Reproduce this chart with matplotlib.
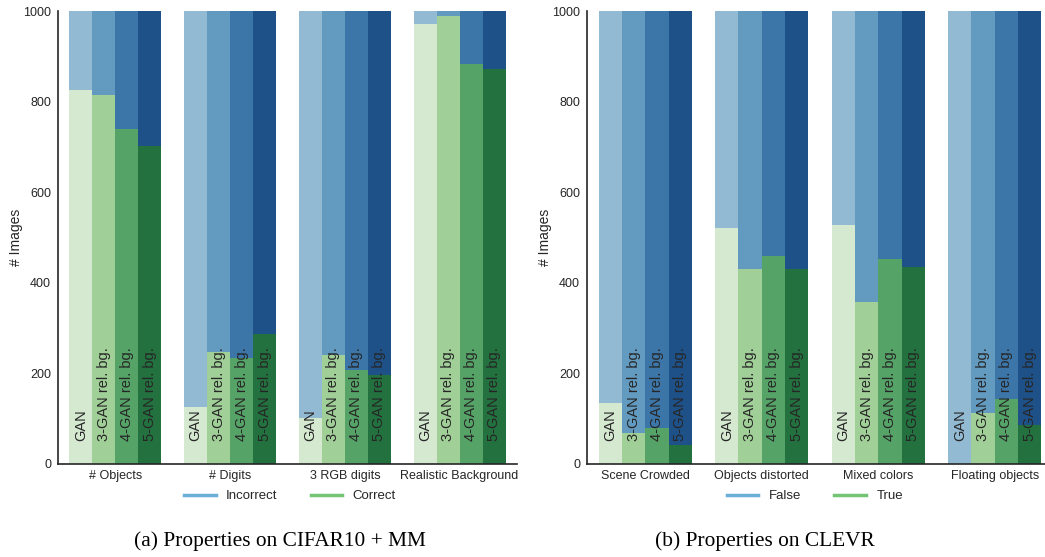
import matplotlib
matplotlib.use("Agg")
import matplotlib.pyplot as plt
import numpy as np
from matplotlib.lines import Line2D

plt.rcParams.update({
    "font.family": ["Liberation Sans", "DejaVu Sans"],
    "text.color": "#262626",
    "axes.labelcolor": "#262626",
    "xtick.color": "#262626",
    "ytick.color": "#262626",
    "axes.edgecolor": "#262626",
})

# ---- data -------------------------------------------------------------
models = ["GAN", "3-GAN rel. bg.", "4-GAN rel. bg.", "5-GAN rel. bg."]
total_images = 1000

cats_a = ["# Objects", "# Digits", "3 RGB digits", "Realistic Background"]
# correct images per property, one list per model
gan_a = [826, 126, 102, 971]
gan3_a = [814, 247, 241, 989]
gan4_a = [740, 235, 208, 883]
gan5_a = [703, 288, 197, 871]

cats_b = ["Scene Crowded", "Objects distorted", "Mixed colors", "Floating objects"]
gan_b = [135, 521, 528, 0]
gan3_b = [68, 431, 358, 113]
gan4_b = [80, 459, 453, 144]
gan5_b = [42, 431, 435, 86]

blues = ["#93bad3", "#629ac0", "#3c76a9", "#1f5189"]
greens = ["#d5e9d1", "#a1cf98", "#56a367", "#22713e"]


def draw_panel(ax, cats, series):
    x = np.arange(len(cats))
    w = 0.2
    for k, (name, vals) in enumerate(zip(models, series)):
        pos = x - 0.3 + k * w
        ax.bar(pos, [total_images] * len(cats), width=w, color=blues[k],
               linewidth=0, zorder=1)
        ax.bar(pos, vals, width=w, color=greens[k], linewidth=0, zorder=2)
        for p in pos:
            ax.text(p, 50, name, rotation=90, ha="center", va="bottom",
                    fontsize=10.5, color="#262626", zorder=3)
    ax.set_xlim(-0.5, len(cats) - 0.5)
    ax.set_ylim(0, 1000)
    ax.set_yticks([0, 200, 400, 600, 800, 1000])
    ax.set_xticks(x)
    ax.set_xticklabels(cats, fontsize=9)
    ax.tick_params(axis="y", labelsize=9, length=0, pad=5)
    ax.tick_params(axis="x", length=0, pad=4)
    ax.set_ylabel("# Images", fontsize=10)
    for s in ("top", "right"):
        ax.spines[s].set_visible(False)
    for s in ("left", "bottom"):
        ax.spines[s].set_linewidth(1.2)
    handles = [Line2D([0], [0], color="#6baed6", lw=2.5),
               Line2D([0], [0], color="#74c476", lw=2.5)]
    return handles


fig = plt.figure(figsize=(10.45, 5.57), dpi=100)
ax_a = fig.add_axes([58 / 1045, 1 - 464 / 557, (517 - 58) / 1045, 453 / 557])
ax_b = fig.add_axes([587 / 1045, 1 - 464 / 557, (1053 - 587) / 1045, 453 / 557])

h = draw_panel(ax_a, cats_a, [gan_a, gan3_a, gan4_a, gan5_a])
ax_a.yaxis.set_label_coords(-0.076, 0.5)
fig.legend(h, ["Incorrect", "Correct"], loc="center", ncol=2, frameon=False,
           fontsize=9.5, bbox_to_anchor=(290 / 1045, 1 - 496 / 557),
           handlelength=2.4, columnspacing=2.5)

h = draw_panel(ax_b, cats_b, [gan_b, gan3_b, gan4_b, gan5_b])
ax_b.yaxis.set_label_coords(-0.076, 0.5)
fig.legend(h, ["False", "True"], loc="center", ncol=2, frameon=False,
           fontsize=9.5, bbox_to_anchor=(815 / 1045, 1 - 496 / 557),
           handlelength=2.4, columnspacing=2.5)

serif = ["Liberation Serif", "DejaVu Serif"]
fig.text(280 / 1045, 1 - 541 / 557, "(a) Properties on CIFAR10 + MM",
         ha="center", va="center", fontsize=15.4, family=serif, color="black")
fig.text(765 / 1045, 1 - 541 / 557, "(b) Properties on CLEVR",
         ha="center", va="center", fontsize=15.4, family=serif, color="black")

fig.savefig("out.png", dpi=100)
